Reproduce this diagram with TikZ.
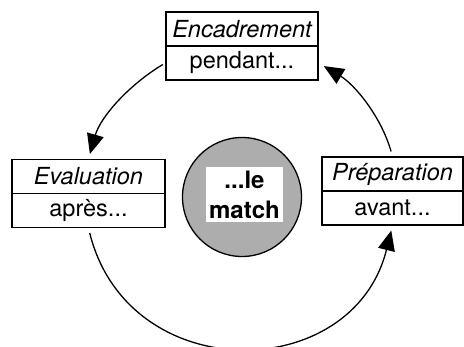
\documentclass[tikz,border=0pt]{standalone}
\usepackage{fontspec}
\setmainfont{TeX Gyre Heros}
\usetikzlibrary{arrows.meta}

\begin{document}
\begin{tikzpicture}[x=1pt,y=1pt,
  head/.style={draw,line width=1.3pt,inner sep=0pt,minimum height=34pt,
    font=\fontsize{23.5}{27}\selectfont\itshape},
  sub/.style={draw,line width=1.3pt,inner sep=0pt,minimum height=34pt,
    font=\fontsize{23.5}{27}\selectfont},
  cyc/.style={-{Triangle[length=20pt,width=17pt]},line width=1.3pt}]
\useasboundingbox (0,0) rectangle (464,347);

% the three phases
\node[head,minimum width=152pt] (enc) at (242,318) {Encadrement};
\node[sub,minimum width=152pt] (encsub) at (242,284) {pendant...};
\node[head,minimum width=153pt] (evl) at (88.5,170.5) {Evaluation};
\node[sub,minimum width=153pt] (evlsub) at (88.5,136.5) {après...};
\node[head,minimum width=141pt] (prep) at (392.5,173) {Préparation};
\node[sub,minimum width=141pt] (prepsub) at (392.5,139) {avant...};

% the match in the middle
\node[circle,draw,line width=1.3pt,fill=black!32,minimum size=119pt] (ball) at (242,150) {};
\node[fill=white,minimum width=77pt,minimum height=55pt,inner sep=0pt,align=center,
  font=\fontsize{24}{30}\selectfont\bfseries] (match) at (244.5,152.5) {...le\\match};

% the cycle
\draw[cyc,shorten <=3pt,shorten >=5pt] (encsub.west) to[out=211,in=74,looseness=0.9] (evl.north);
\draw[cyc,shorten <=5pt,shorten >=6pt] (prep.north) to[out=106,in=-31,looseness=0.9] (encsub.east);
\draw[cyc,shorten <=5pt,shorten >=5pt] (evlsub.south) to[out=284,in=256,looseness=1.38] (prepsub.south);
\end{tikzpicture}
\end{document}
